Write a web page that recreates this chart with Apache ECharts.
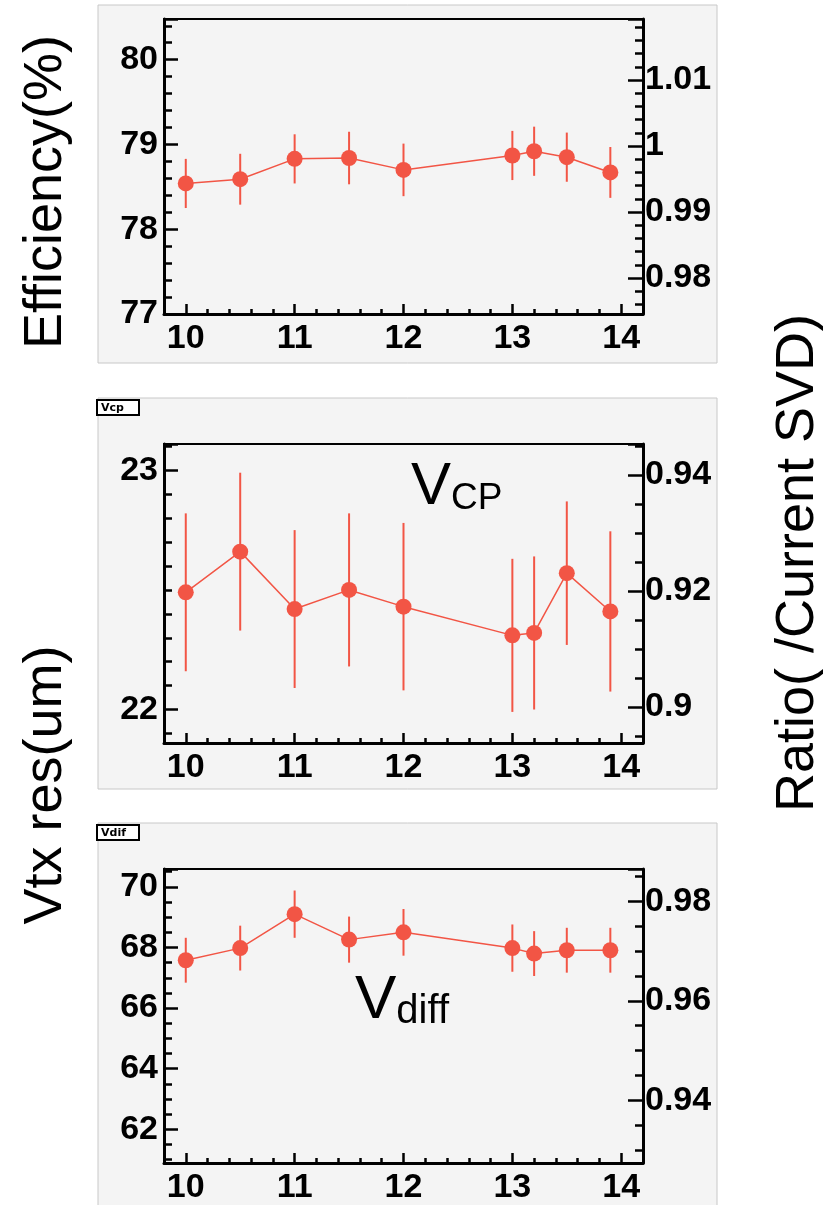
<!DOCTYPE html>
<html><head><meta charset="utf-8">
<script src="https://cdn.jsdelivr.net/npm/echarts@6/dist/echarts.min.js"></script>
<style>html,body{margin:0;padding:0;background:#fff}#c{width:823px;height:1205px}</style>
</head><body><div id="c"></div>
<script>
// ---- data ----
const xValues = [10, 10.5, 11, 11.5, 12, 13, 13.2, 13.5, 13.9];
const effValues = [78.54, 78.59, 78.83, 78.84, 78.70, 78.87, 78.92, 78.85, 78.67];
const effErrors = [0.29, 0.30, 0.29, 0.31, 0.31, 0.29, 0.29, 0.29, 0.30];
const vcpValues = [22.49, 22.66, 22.42, 22.50, 22.43, 22.31, 22.32, 22.57, 22.41];
const vcpErrors = [0.33, 0.33, 0.33, 0.32, 0.35, 0.32, 0.32, 0.30, 0.335];
const vdiffValues = [67.58, 67.98, 69.10, 68.26, 68.50, 67.98, 67.80, 67.91, 67.91];
const vdiffErrors = [0.74, 0.74, 0.78, 0.76, 0.77, 0.78, 0.74, 0.74, 0.74];
const xRange = [9.8, 14.2];
const leftRanges = [[77, 80.48], [21.86, 23.11], [60.89, 70.59]];
const rightRanges = [[0.97455, 1.01924], [0.89379, 0.94534], [0.92739, 0.9865]];
const axisTitles = ['Efficiency(%)', 'Vtx res(um)', 'Ratio( /Current SVD)'];
const panelTags = ['Vcp', 'Vdif'];

const RED = '#f25545';
const LBL = {fontFamily: 'Liberation Sans', fontWeight: 'bold', fontSize: 34, color: '#000'};
const grids = [
  {left: 164, top: 19, width: 479, height: 295},
  {left: 164, top: 444, width: 479, height: 299},
  {left: 164, top: 869, width: 479, height: 298}
].map(g => Object.assign(g, {show: true, borderColor: '#000', borderWidth: 2, backgroundColor: 'transparent'}));

const xAxes = grids.map((g, i) => ({
  type: 'value', gridIndex: i, min: xRange[0], max: xRange[1], splitNumber: 5,
  axisLine: {show: true, onZero: false, lineStyle: {color: '#000', width: 3}},
  axisTick: {show: true, inside: true, length: 10, lineStyle: {color: '#000', width: 2.5}},
  minorTick: {show: true, splitNumber: 5, length: 5, lineStyle: {color: '#000', width: 2.5}},
  splitLine: {show: false}, minorSplitLine: {show: false},
  axisLabel: Object.assign({margin: 8, showMinLabel: false, showMaxLabel: false}, LBL)
}));

const leftCfg = [
  {interval: 1, minor: 5, showMin: true},
  {splitNumber: 1, minor: 10, showMin: false},
  {splitNumber: 5, minor: 4, showMin: false}
];
const rightCfg = [{split: 5, minor: 5}, {split: 3, minor: 4}, {split: 3, minor: 4}];

const yAxes = [];
grids.forEach((g, i) => {
  const lc = leftCfg[i];
  const la = {
    type: 'value', gridIndex: i, position: 'left', min: leftRanges[i][0], max: leftRanges[i][1],
    axisLine: {show: true, onZero: false, lineStyle: {color: '#000', width: 3}},
    axisTick: {show: true, inside: true, length: 14, lineStyle: {color: '#000', width: 2.5}},
    minorTick: {show: true, splitNumber: lc.minor, length: 8, lineStyle: {color: '#000', width: 2.5}},
    splitLine: {show: false}, minorSplitLine: {show: false},
    axisLabel: Object.assign({margin: 6, showMinLabel: lc.showMin, showMaxLabel: false}, LBL)
  };
  if (lc.interval) la.interval = lc.interval; else la.splitNumber = lc.splitNumber;
  yAxes.push(la);
  const rc = rightCfg[i];
  yAxes.push({
    type: 'value', gridIndex: i, position: 'right', min: rightRanges[i][0], max: rightRanges[i][1],
    splitNumber: rc.split,
    axisLine: {show: true, onZero: false, lineStyle: {color: '#000', width: 3}},
    axisTick: {show: true, inside: true, length: 15, lineStyle: {color: '#000', width: 2.5}},
    minorTick: {show: true, splitNumber: rc.minor, length: 8, lineStyle: {color: '#000', width: 2.5}},
    splitLine: {show: false}, minorSplitLine: {show: false},
    axisLabel: Object.assign({margin: 2, showMinLabel: false, showMaxLabel: false}, LBL)
  });
});

const sets = [[effValues, effErrors], [vcpValues, vcpErrors], [vdiffValues, vdiffErrors]];
const series = [];
sets.forEach(([vals, errs], i) => {
  series.push({
    type: 'custom', xAxisIndex: i, yAxisIndex: i * 2, z: 3,
    data: xValues.map((x, k) => [x, vals[k] - errs[k], vals[k] + errs[k]]),
    encode: {x: 0, y: [1, 2]},
    renderItem: (params, api) => {
      const lo = api.coord([api.value(0), api.value(1)]);
      const hi = api.coord([api.value(0), api.value(2)]);
      return {type: 'line', shape: {x1: lo[0], y1: lo[1], x2: hi[0], y2: hi[1]},
              style: {stroke: RED, lineWidth: 2}};
    }
  });
  series.push({
    type: 'line', xAxisIndex: i, yAxisIndex: i * 2, z: 4,
    data: xValues.map((x, k) => [x, vals[k]]),
    symbol: 'circle', symbolSize: 16, showSymbol: true,
    lineStyle: {color: RED, width: 1.5}, itemStyle: {color: RED}
  });
});

const panels = [[98, 5, 619, 358], [98, 398, 619, 391], [98, 823, 619, 390]];
const graphic = [];
panels.forEach(p => {
  graphic.push({type: 'rect', z: -10, shape: {x: p[0], y: p[1], width: p[2], height: p[3]},
    style: {fill: '#f4f4f4', stroke: '#c8c8c8', lineWidth: 1}});
});
const titleFont = {fontFamily: 'Liberation Sans', fontSize: 54, fill: '#000', align: 'center', verticalAlign: 'middle'};
graphic.push({type: 'text', x: 46, y: 192, rotation: Math.PI / 2, z: 50, style: Object.assign({text: axisTitles[0]}, titleFont)});
graphic.push({type: 'text', x: 46, y: 785, rotation: Math.PI / 2, z: 50, style: Object.assign({text: axisTitles[1]}, titleFont)});
graphic.push({type: 'text', x: 798, y: 563, rotation: Math.PI / 2, z: 50, style: Object.assign({text: axisTitles[2]}, titleFont)});
[[97, 400], [97, 825]].forEach((pos, i) => {
  graphic.push({type: 'rect', z: 20, shape: {x: pos[0], y: pos[1], width: 42, height: 15},
    style: {fill: '#fff', stroke: '#000', lineWidth: 2}});
  graphic.push({type: 'text', z: 21, x: pos[0] + 4, y: pos[1] + 8,
    style: {text: panelTags[i], fontFamily: 'DejaVu Sans', fontSize: 11, fontWeight: 'bold', fill: '#000', align: 'left', verticalAlign: 'middle'}});
});
const annRich = (big, small) => ({
  b: {fontFamily: 'Liberation Sans', fontSize: big, fill: '#000', verticalAlign: 'bottom'},
  s: {fontFamily: 'Liberation Sans', fontSize: small, fill: '#000', verticalAlign: 'bottom'}
});
graphic.push({type: 'text', z: 30, x: 411, y: 517,
  style: {text: '{b|V}{s|CP}', rich: annRich(60, 37), align: 'left', verticalAlign: 'bottom'}});
graphic.push({type: 'text', z: 30, x: 355, y: 1032,
  style: {text: '{b|V}{s|diff}', rich: annRich(62, 40), align: 'left', verticalAlign: 'bottom'}});

const chart = echarts.init(document.getElementById('c'), null, {renderer: 'canvas'});
chart.setOption({
  animation: false, backgroundColor: '#fff',
  grid: grids, xAxis: xAxes, yAxis: yAxes, series, graphic
});
</script></body></html>
